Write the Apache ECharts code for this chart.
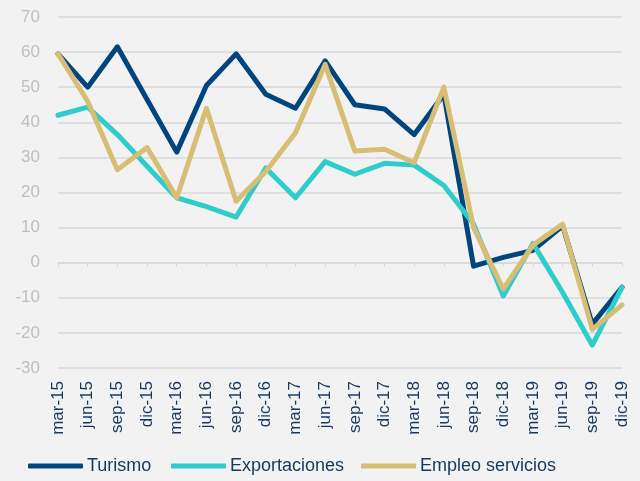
<!DOCTYPE html>
<html>
<head>
<meta charset="utf-8">
<script src="https://cdn.jsdelivr.net/npm/echarts@6/dist/echarts.min.js"></script>
<style>
  html, body { margin: 0; padding: 0; background: #f2f2f2; }
  #chart { width: 640px; height: 481px; }
</style>
</head>
<body>
<div id="chart"></div>
<script>
// Quarterly categories
const categories = ['mar-15', 'jun-15', 'sep-15', 'dic-15', 'mar-16', 'jun-16', 'sep-16', 'dic-16',
  'mar-17', 'jun-17', 'sep-17', 'dic-17', 'mar-18', 'jun-18', 'sep-18', 'dic-18',
  'mar-19', 'jun-19', 'sep-19', 'dic-19'];

// Series values
const turismo = [59.5, 50, 61.5, 46.5, 31.5, 50.5, 59.5, 48, 44, 57.5, 45, 43.8, 36.5, 48, -1, 1.5, 3.5, 10.5, -17.5, -7];
const exportaciones = [42, 44.3, 36.5, 27.5, 18.5, 16, 13, 27, 18.5, 28.8, 25.2, 28.3, 27.8, 22, 11, -9.5, 5.5, -8.5, -23.5, -7];
const empleoServicios = [59.5, 46, 26.5, 32.8, 18.5, 44, 17.5, 26, 37, 56.5, 31.8, 32.3, 28.5, 50, 10, -7.5, 5, 11, -19, -12];

// Value axis range
const yMin = -30, yMax = 70, yStep = 10;

const FONT = "'Liberation Sans', Arial, sans-serif";
const TEXT_DARK = '#17375e';
const GRID_GREY = '#d9d9d9';

const seriesDefs = [
  { name: 'Turismo', data: turismo, color: '#00457e' },
  { name: 'Exportaciones', data: exportaciones, color: '#2ecdcb' },
  { name: 'Empleo servicios', data: empleoServicios, color: '#d8bd75' }
];

const legendLefts = [28, 171, 361];

const chart = echarts.init(document.getElementById('chart'), null, { renderer: 'canvas' });

chart.setOption({
  animation: false,
  backgroundColor: '#f2f2f2',
  textStyle: { fontFamily: FONT },
  grid: { left: 58, right: 18, top: 17, bottom: 113, containLabel: false },
  legend: seriesDefs.map((s, i) => ({
    data: [s.name],
    left: legendLefts[i],
    top: 457,
    padding: 0,
    icon: 'roundRect',
    itemWidth: 55,
    itemHeight: 5,
    itemGap: 0,
    textStyle: { color: TEXT_DARK, fontSize: 18, fontFamily: FONT, padding: [0, 0, 0, -1] },
    selectedMode: false
  })),
  xAxis: [
    {
      type: 'category',
      data: categories,
      boundaryGap: false,
      position: 'bottom',
      axisLine: { show: false, onZero: false },
      axisTick: { show: false },
      axisLabel: {
        rotate: 90,
        interval: 0,
        margin: 13,
        color: TEXT_DARK,
        fontSize: 17,
        fontFamily: FONT
      },
      splitLine: { show: false }
    },
    {
      type: 'category',
      data: categories,
      boundaryGap: false,
      position: 'top',
      axisLine: { show: true, onZero: true, lineStyle: { color: GRID_GREY, width: 1.5 } },
      axisTick: { show: true, inside: true, length: 4, interval: 0, lineStyle: { color: GRID_GREY, width: 1 } },
      axisLabel: { show: false },
      splitLine: { show: false }
    }
  ],
  yAxis: {
    type: 'value',
    min: yMin,
    max: yMax,
    interval: yStep,
    axisLine: { show: false },
    axisTick: { show: false },
    axisLabel: { color: '#bfbfbf', fontSize: 17, margin: 18, fontFamily: FONT },
    splitLine: { lineStyle: { color: GRID_GREY, width: 1.5 } }
  },
  series: seriesDefs.map(s => ({
    name: s.name,
    type: 'line',
    xAxisIndex: 0,
    data: s.data,
    showSymbol: false,
    symbol: 'none',
    color: s.color,
    lineStyle: { color: s.color, width: 5, cap: 'round', join: 'round' }
  }))
});
</script>
</body>
</html>
